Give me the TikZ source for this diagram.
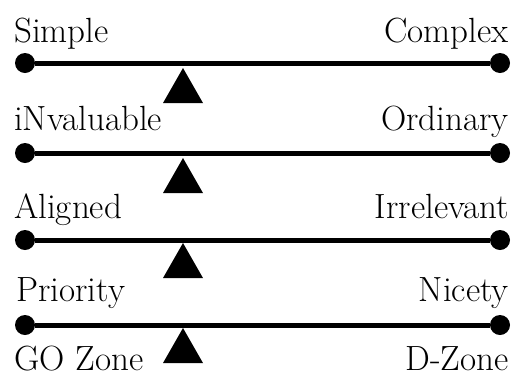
\documentclass[tikz,border=0pt]{standalone}
\begin{document}
\begin{tikzpicture}[x=1pt,y=-1pt,
  lbl/.style={inner sep=0pt,font=\fontsize{35}{40}\selectfont},
  dot/.style={circle,fill=black,inner sep=0pt,minimum size=20pt},
  beam/.style={line width=5pt},
  tri/.style={fill=black}]
\useasboundingbox (0,0) rectangle (514,376);
% labels
\node[lbl,anchor=base west] (l1) at (14,42) {Simple};
\node[lbl,anchor=base east] (r1) at (509,42) {Complex};
\node[lbl,anchor=base west] (l2) at (14,130) {iNvaluable};
\node[lbl,anchor=base east] (r2) at (509,130) {Ordinary};
\node[lbl,anchor=base west] (l3) at (14,218) {Aligned};
\node[lbl,anchor=base east] (r3) at (509,218) {Irrelevant};
\node[lbl,anchor=base west] (l4) at (16,301) {Priority};
\node[lbl,anchor=base east] (r4) at (509,301) {Nicety};
\node[lbl,anchor=base west] (l5) at (14,370) {GO Zone};
\node[lbl,anchor=base east] (r5) at (509,370) {D-Zone};
% beams
\foreach \i/\y/\t in {1/63/68,2/153/158,3/240/243,4/325/328}{
  \node[dot] (a\i) at (25,\y) {};
  \node[dot] (b\i) at (500,\y) {};
  \draw[beam] (a\i) -- (b\i);
  \coordinate (f\i) at (183,\t);
  \fill[tri] (f\i) -- ++(20,35) -- ++(-40,0) -- cycle;
}
\end{tikzpicture}
\end{document}
